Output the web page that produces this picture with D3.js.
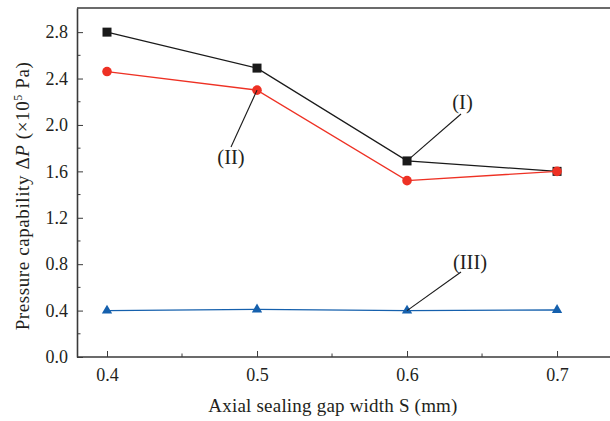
<!DOCTYPE html>
<html>
<head>
<meta charset="utf-8">
<script src="https://cdn.jsdelivr.net/npm/d3@7"></script>
<style>
  html, body { margin: 0; padding: 0; background: #fff; }
  svg { display: block; }
  svg text { font-family: "Liberation Serif", "Times New Roman", serif !important; fill: #231f20; }
</style>
</head>
<body>
<svg id="chart" width="610" height="421"></svg>
<script>
// Axial sealing gap width (mm)
const gapWidth = [0.4, 0.5, 0.6, 0.7];
// Pressure capability (x10^5 Pa) for each case
const seriesI   = [2.80, 2.49, 1.69, 1.60];
const seriesII  = [2.46, 2.30, 1.52, 1.60];
const seriesIII = [0.40, 0.41, 0.40, 0.405];
const xTicks = [0.4, 0.5, 0.6, 0.7];
const yTicks = [0.0, 0.4, 0.8, 1.2, 1.6, 2.0, 2.4, 2.8];

const svg = d3.select("#chart");
const plotLeft = 77, plotRight = 610, plotTop = 8, plotBottom = 357;

const x = d3.scaleLinear().domain([0.38, 0.7353]).range([plotLeft, plotRight]);
const y = d3.scaleLinear().domain([0, 3.008]).range([plotBottom, plotTop]);

const axisColor = "#3a3a3a";
const serif = "Liberation Serif";

// frame: top border continues across
svg.append("line").attr("x1", plotLeft).attr("x2", plotRight).attr("y1", plotTop).attr("y2", plotTop)
  .attr("stroke", axisColor).attr("stroke-width", 1.6);

// x axis (ticks pointing inward)
const xAxis = svg.append("g").attr("transform", `translate(0,${plotBottom})`)
  .call(d3.axisBottom(x).tickValues(xTicks).tickFormat(d3.format(".1f"))
    .tickSizeInner(-6).tickSizeOuter(0).tickPadding(11));
xAxis.append("g").selectAll("line").data([0.45, 0.55, 0.65]).join("line")
  .attr("x1", d => x(d)).attr("x2", d => x(d)).attr("y1", 0).attr("y2", -3.5)
  .attr("stroke", axisColor).attr("stroke-width", 1);

// y axis (ticks pointing inward)
const yAxis = svg.append("g").attr("transform", `translate(${plotLeft},0)`)
  .call(d3.axisLeft(y).tickValues(yTicks).tickFormat(d3.format(".1f"))
    .tickSizeInner(-6).tickSizeOuter(0).tickPadding(9));
yAxis.append("g").selectAll("line").data([0.2, 0.6, 1.0, 1.4, 1.8, 2.2, 2.6]).join("line")
  .attr("y1", d => y(d)).attr("y2", d => y(d)).attr("x1", 0).attr("x2", 3.5)
  .attr("stroke", axisColor).attr("stroke-width", 1);

[xAxis, yAxis].forEach(g => {
  g.attr("font-family", serif).attr("font-size", 18);
  g.select(".domain").attr("stroke", axisColor).attr("stroke-width", 1.6);
  g.selectAll(".tick line").attr("stroke", axisColor).attr("stroke-width", 1);
  g.selectAll(".tick text").attr("font-family", serif)
    .attr("font-size", 18).attr("fill", "#231f20");
});
xAxis.select(".domain").attr("d", `M${plotLeft},0H${plotRight}`);

// axis titles
svg.append("text").attr("x", 333).attr("y", 412).attr("text-anchor", "middle")
  .attr("font-size", 19).attr("letter-spacing", 0.2).text("Axial sealing gap width S (mm)");

const yt = svg.append("text").attr("transform", "translate(28.5,196) rotate(-90)")
  .attr("text-anchor", "middle").attr("font-size", 19).attr("letter-spacing", 0.6);
yt.append("tspan").text("Pressure capability \u0394");
yt.append("tspan").attr("font-style", "italic").text("P");
yt.append("tspan").text(" (\u00d710");
yt.append("tspan").attr("font-size", 12).attr("dy", -7).text("5");
yt.append("tspan").attr("dy", 7).text(" Pa)");

// series
const line = d3.line().x((d, i) => x(gapWidth[i])).y(d => y(d));
const series = [
  { values: seriesI,   color: "#1a1a1a", symbol: d3.symbolSquare,   size: 81 },
  { values: seriesII,  color: "#ee3124", symbol: d3.symbolCircle,   size: 72 },
  { values: seriesIII, color: "#1560ad", symbol: d3.symbolTriangle, size: 46 }
];
series.forEach(s => {
  svg.append("path").datum(s.values).attr("d", line)
    .attr("fill", "none").attr("stroke", s.color).attr("stroke-width", 1.3);
  svg.append("g").selectAll("path").data(s.values).join("path")
    .attr("transform", (d, i) => `translate(${x(gapWidth[i])},${y(d)})`)
    .attr("d", d3.symbol().type(s.symbol).size(s.size))
    .attr("fill", s.color);
});

// callout labels
const callouts = [
  { text: "(I)",   tx: 462.5, ty: 109, i: 2, v: seriesI[2],   from: [461, 114] },
  { text: "(II)",  tx: 231,   ty: 164, i: 1, v: seriesII[1],  from: [231, 147] },
  { text: "(III)", tx: 470,   ty: 269, i: 2, v: seriesIII[2], from: [461, 272] }
];
callouts.forEach(c => {
  svg.append("line").attr("x1", c.from[0]).attr("y1", c.from[1])
    .attr("x2", x(gapWidth[c.i])).attr("y2", y(c.v))
    .attr("stroke", "#1a1a1a").attr("stroke-width", 1.1);
  svg.append("text").attr("x", c.tx).attr("y", c.ty).attr("text-anchor", "middle")
    .attr("font-size", 20.5).text(c.text);
});
</script>
</body>
</html>
